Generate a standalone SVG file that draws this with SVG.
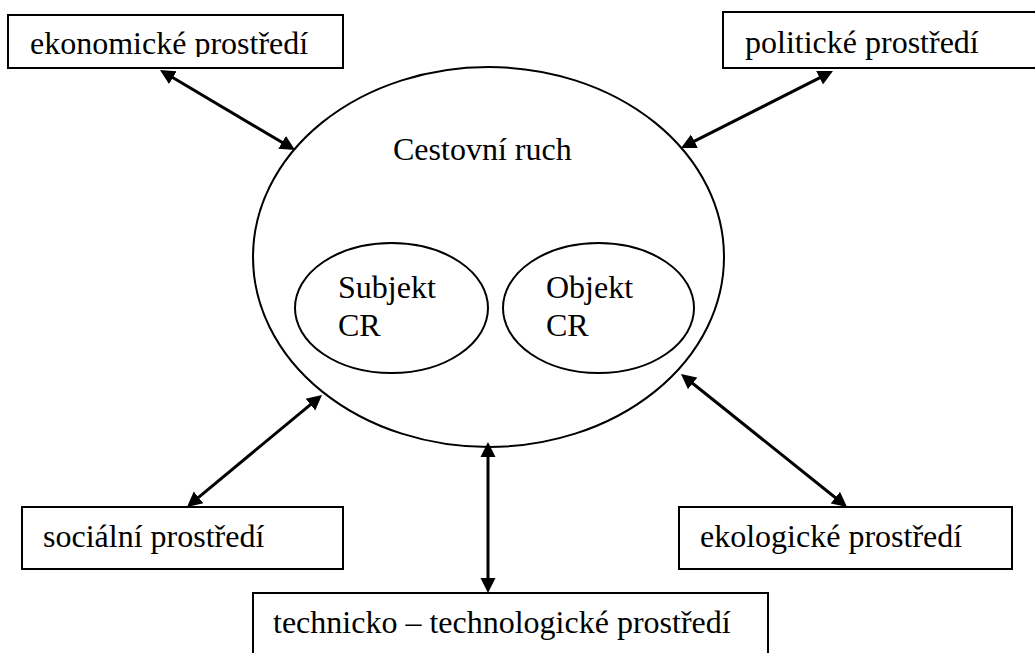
<svg xmlns="http://www.w3.org/2000/svg" width="1035" height="653" viewBox="0 0 1035 653">
  <style>
    .box { fill: #ffffff; stroke: #000000; stroke-width: 2; }
    .ell { fill: #ffffff; stroke: #000000; stroke-width: 2; }
    .lbl { font-size: 32px; fill: #000000; }
    .conn { stroke: #000000; stroke-width: 3; fill: none; marker-start: url(#arrow); marker-end: url(#arrow); }
  </style>
  <defs>
    <marker id="arrow" markerUnits="userSpaceOnUse" markerWidth="16" markerHeight="16" viewBox="0 0 16 16" refX="11" refY="8" orient="auto-start-reverse">
      <path d="M0,0.5 L15,8 L0,15.5 Z" fill="#000000"/>
    </marker>
    <clipPath id="clipEko">
      <rect x="8" y="15" width="335" height="42"/>
    </clipPath>
  </defs>
  <rect width="1035" height="653" fill="#ffffff"/>

  <g font-family="'Liberation Serif', 'Times New Roman', 'DejaVu Serif', serif">
  <g id="cestovni-ruch">
    <ellipse class="ell" cx="488.5" cy="257" rx="235.5" ry="190"/>
    <text class="lbl" x="393" y="160">Cestovní ruch</text>
  </g>
  <g id="subjekt">
    <ellipse class="ell" cx="391.5" cy="308" rx="96.5" ry="65"/>
    <text class="lbl" x="338" y="298">Subjekt</text>
    <text class="lbl" x="338" y="336">CR</text>
  </g>
  <g id="objekt">
    <ellipse class="ell" cx="598.5" cy="308" rx="95.5" ry="65"/>
    <text class="lbl" x="546" y="298">Objekt</text>
    <text class="lbl" x="546" y="336">CR</text>
  </g>

  <g id="ekonomicke">
    <rect class="box" x="8" y="15" width="335" height="53"/>
    <text class="lbl" x="30" y="54" clip-path="url(#clipEko)">ekonomické prostředí</text>
  </g>
  <g id="politicke">
    <rect class="box" x="723" y="12" width="330" height="56"/>
    <text class="lbl" x="745" y="53">politické prostředí</text>
  </g>
  <g id="socialni">
    <rect class="box" x="22" y="507" width="321" height="62"/>
    <text class="lbl" x="43" y="547">sociální prostředí</text>
  </g>
  <g id="ekologicke">
    <rect class="box" x="679" y="507" width="333" height="62"/>
    <text class="lbl" x="700" y="547">ekologické prostředí</text>
  </g>
  <g id="technicke">
    <rect class="box" x="253" y="593" width="515" height="75"/>
    <text class="lbl" x="273" y="633">technicko – technologické prostředí</text>
  </g>
  </g>

  <g id="connectors">
    <line class="conn" x1="163.4" y1="72" x2="291.6" y2="148"/>
    <line class="conn" x1="829.4" y1="72.8" x2="684.6" y2="146.2"/>
    <line class="conn" x1="318.9" y1="397.6" x2="190.1" y2="504.4"/>
    <line class="conn" x1="684.1" y1="376.5" x2="843.9" y2="504.5"/>
    <line class="conn" x1="488" y1="446" x2="488" y2="589"/>
  </g>
</svg>
